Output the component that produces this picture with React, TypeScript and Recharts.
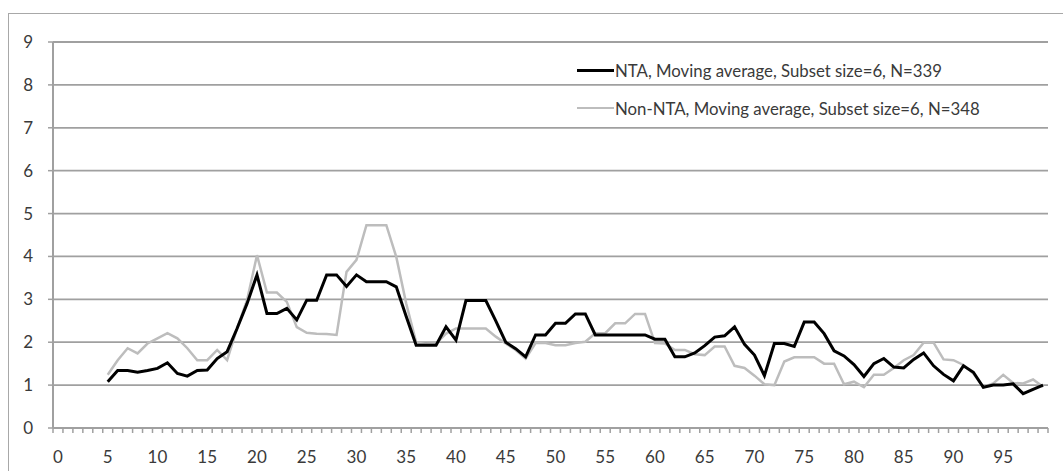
import { LineChart, Line, XAxis, YAxis, CartesianGrid, Legend } from "recharts";

// eixo x: categorias 0..99, rótulos a cada 5
const xLabels = [0, 5, 10, 15, 20, 25, 30, 35, 40, 45, 50, 55, 60, 65, 70, 75, 80, 85, 90, 95];
const yTicks = [0, 1, 2, 3, 4, 5, 6, 7, 8, 9];
const firstX = 5;

// NTA, média móvel (x = 5..99)
const nta = [
  1.08, 1.34, 1.34, 1.3, 1.34, 1.39, 1.52, 1.27, 1.21, 1.34,
  1.35, 1.62, 1.78, 2.32, 2.9, 3.57, 2.67, 2.67, 2.79, 2.52,
  2.98, 2.98, 3.57, 3.57, 3.3, 3.57, 3.41, 3.41, 3.41, 3.29,
  2.6, 1.93, 1.93, 1.93, 2.36, 2.05, 2.97, 2.97, 2.97, 2.5,
  2.0, 1.85, 1.66, 2.17, 2.17, 2.44, 2.44, 2.66, 2.66, 2.17,
  2.17, 2.17, 2.17, 2.17, 2.17, 2.07, 2.07, 1.66, 1.66, 1.75,
  1.92, 2.12, 2.15, 2.36, 1.95, 1.7, 1.22, 1.97, 1.97, 1.9,
  2.47, 2.47, 2.2, 1.8, 1.68, 1.48, 1.2, 1.5, 1.62, 1.42,
  1.4, 1.6, 1.75, 1.45, 1.25, 1.1, 1.45, 1.3, 0.95, 1.0,
  1.0, 1.03, 0.8, 0.9, 1.0,
];

// Non-NTA, média móvel (x = 5..99)
const nonNta = [
  1.24, 1.58, 1.86, 1.74, 1.97, 2.09, 2.21, 2.09, 1.86, 1.58,
  1.58, 1.82, 1.58, 2.32, 2.98, 4.03, 3.16, 3.16, 2.94, 2.35,
  2.22, 2.2, 2.19, 2.17, 3.64, 3.92, 4.73, 4.73, 4.73, 3.99,
  2.9, 2.0, 1.95, 1.97, 2.2, 2.32, 2.32, 2.32, 2.32, 2.13,
  1.97, 1.82, 1.62, 1.98, 1.98, 1.93, 1.93, 1.98, 2.01, 2.21,
  2.21, 2.44, 2.44, 2.66, 2.66, 1.98, 1.97, 1.82, 1.82, 1.72,
  1.7, 1.9, 1.9, 1.45, 1.4, 1.22, 1.02, 1.0, 1.55, 1.65,
  1.65, 1.65, 1.5, 1.5, 1.02, 1.08, 0.95, 1.24, 1.24, 1.4,
  1.58, 1.7, 1.99, 1.99, 1.6, 1.58, 1.47, 1.27, 0.95, 1.04,
  1.24, 1.05, 1.04, 1.13, 0.96,
];

const SERIES = [
  { key: "nta", name: "NTA, Moving average, Subset size=6, N=339", color: "#000000", width: 3 },
  { key: "nonNta", name: "Non-NTA, Moving average, Subset size=6, N=348", color: "#bdbdbd", width: 2.5 },
];

const FONT = "Lato, 'Open Sans', sans-serif";
const AXIS = "#a0a0a0";
const TEXT = "#3a3a3a";

const data = nta.map((v, k) => ({ x: firstX + k, nta: v, nonNta: nonNta[k] }));

// marcas menores entre categorias + rótulos a cada 5
const minorTicks = Array.from({ length: 101 }, (_, i) => i - 0.5);
const xTicks = [...minorTicks, ...xLabels];

function XTick(props: any) {
  const { x, y, payload } = props;
  const v = payload.value as number;
  if (Number.isInteger(v)) {
    return (
      <text x={x} y={y + 35} textAnchor="middle" fontSize={17} fontFamily={FONT} fill={TEXT}>
        {v}
      </text>
    );
  }
  return <line x1={x} x2={x} y1={y} y2={y + 5} stroke={AXIS} strokeWidth={1.5} />;
}

function renderLegend() {
  return (
    <div style={{ fontFamily: FONT, fontSize: 16.8, color: TEXT }}>
      {SERIES.map((s) => (
        <div key={s.key} style={{ display: "flex", alignItems: "center", height: 38 }}>
          <span style={{ display: "inline-block", width: 37, height: s.width, background: s.color }} />
          <span style={{ marginLeft: 1 }}>{s.name}</span>
        </div>
      ))}
    </div>
  );
}

export default function App() {
  return (
    <div style={{ position: "absolute", left: 0, top: 0, width: 1063, height: 471, overflow: "hidden", background: "#fff" }}>
      <div
        style={{
          position: "absolute", left: 8, top: 13, width: 1080, height: 500,
          border: "1.5px solid #a8a8a8", boxSizing: "border-box",
        }}
      />
      <div style={{ position: "absolute", left: 0, top: 0 }}>
        <LineChart width={1063} height={471} data={data} margin={{ top: 42, right: 15, bottom: 0, left: 0 }}>
          <CartesianGrid horizontal vertical={false} stroke={AXIS} strokeWidth={1.8} />
          <XAxis
            dataKey="x" type="number" domain={[-0.5, 99.5]} ticks={xTicks} interval={0}
            tick={<XTick />} tickLine={false} tickSize={0} tickMargin={0} height={43}
            axisLine={{ stroke: AXIS, strokeWidth: 2 }} allowDataOverflow
          />
          <YAxis
            type="number" domain={[0, 9]} ticks={yTicks} interval={0} width={53}
            tickSize={5} tickMargin={15} tickLine={{ stroke: AXIS, strokeWidth: 1.5 }}
            axisLine={{ stroke: AXIS, strokeWidth: 2 }}
            tick={{ fontSize: 17, fontFamily: FONT, fill: TEXT }}
          />
          <Legend
            layout="vertical" align="center" verticalAlign="middle" content={renderLegend}
            wrapperStyle={{ left: 577, top: 51, width: 480 }}
          />
          <Line
            dataKey="nonNta" stroke={SERIES[1].color} strokeWidth={SERIES[1].width}
            dot={false} activeDot={false} isAnimationActive={false} type="linear"
          />
          <Line
            dataKey="nta" stroke={SERIES[0].color} strokeWidth={SERIES[0].width}
            dot={false} activeDot={false} isAnimationActive={false} type="linear"
          />
        </LineChart>
      </div>
    </div>
  );
}
